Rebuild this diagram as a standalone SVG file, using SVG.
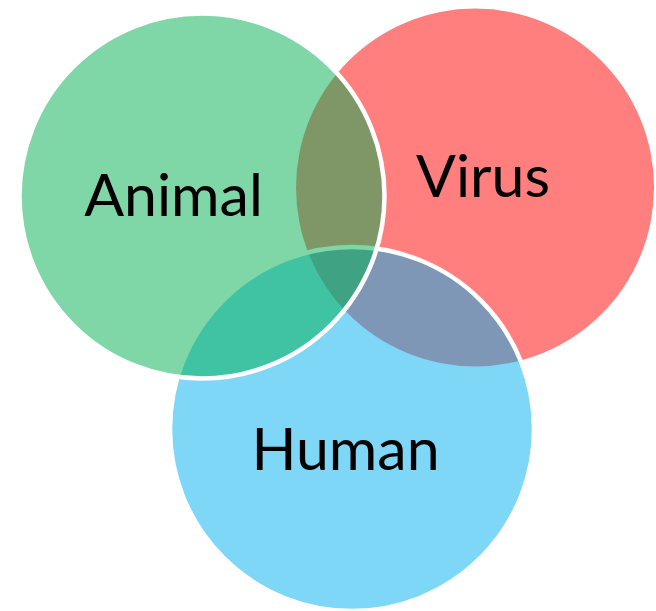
<svg xmlns="http://www.w3.org/2000/svg" width="656" height="611" viewBox="0 0 656 611">
  <style>
    .label { font-family: "Lato", "Liberation Sans", sans-serif; font-size: 59px; fill: #000000; text-anchor: middle; }
    .outlined { stroke: #FFFFFF; stroke-width: 4.5; }
  </style>
  <rect width="656" height="611" fill="#FFFFFF"/>
  <g id="virus">
    <circle cx="475" cy="187.5" r="179" fill="#FF0000" fill-opacity="0.5"/>
  </g>
  <g id="human">
    <circle class="outlined" cx="352" cy="429" r="182" fill="#00B0F0" fill-opacity="0.5"/>
  </g>
  <g id="animal">
    <circle class="outlined" cx="202" cy="196" r="182.5" fill="#00B050" fill-opacity="0.5"/>
  </g>
  <g id="labels">
    <text class="label" x="173.5" y="216">Animal</text>
    <text class="label" x="483" y="197">Virus</text>
    <text class="label" x="345.5" y="470">Human</text>
  </g>
</svg>
